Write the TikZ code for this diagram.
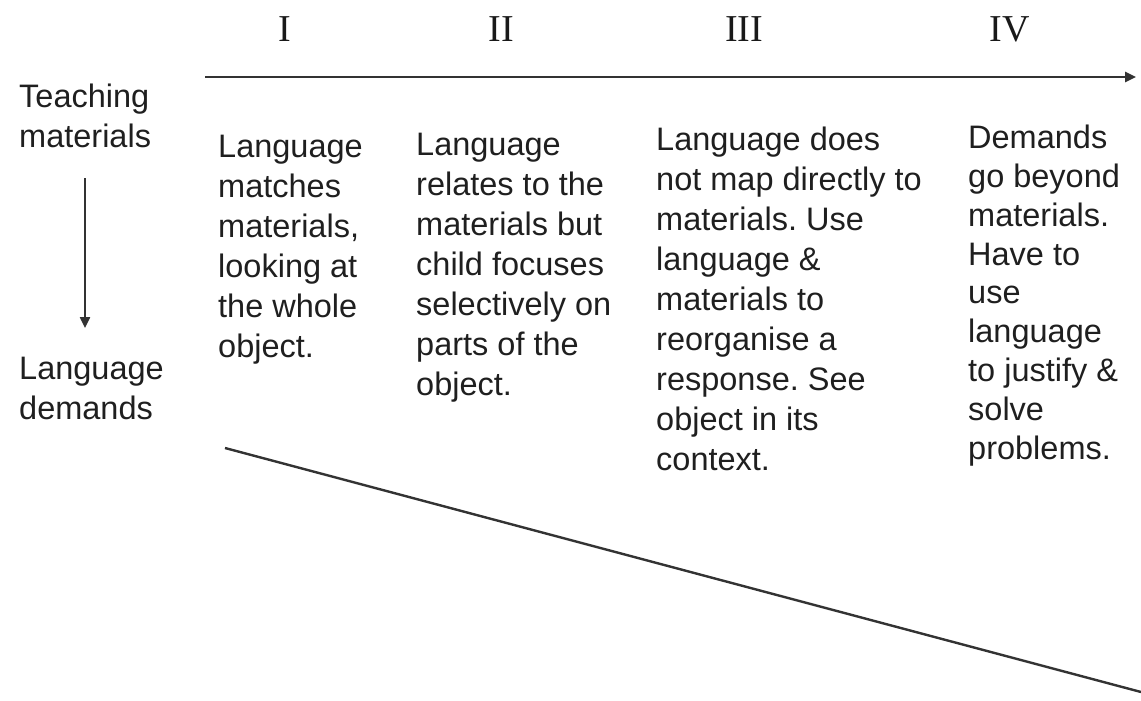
\documentclass[tikz,border=0pt]{standalone}
\usepackage{fontspec}
\setmainfont{Liberation Sans}
\newfontfamily\numfont{Liberation Serif}
\usetikzlibrary{arrows.meta}
\frenchspacing
\tikzset{
  txt/.style={anchor=north west, inner sep=0pt, align=left, text=black!88,
    font=\frenchspacing\fontsize{32.5}{40}\selectfont},
  txtb/.style={txt, font=\frenchspacing\fontsize{32.5}{38.8}\selectfont},
  num/.style={inner sep=0pt, text=black!90, font=\numfont\fontsize{38}{40}\selectfont},
  ln/.style={draw=black!80, line width=2.4pt},
  arr/.style={ln, -{Triangle[length=11pt,width=10pt]}}
}
\begin{document}
\begin{tikzpicture}[x=1pt,y=-1pt]
\useasboundingbox (0,0) rectangle (1141,701);
% roman numerals
\node[num] (n1) at (285,29) {I};
\node[num] (n2) at (501,29) {II};
\node[num] (n3) at (744,29) {III};
\node[num] (n4) at (1010,29) {IV};
% axis arrow
\coordinate (hs) at (205,77);
\coordinate (he) at (1136,77);
\draw[arr] (hs) -- (he);
% left labels
\node[txt] (tm) at (19,84) {Teaching\\materials};
\node[txt] (ld) at (19,357) {Language\\demands};
\coordinate (vs) at (85,178);
\coordinate (ve) at (85,328);
\draw[arr] (vs) -- (ve);
% columns
\node[txt] (c1) at (218,135) {Language\\matches\\materials,\\looking at\\the whole\\object.};
\node[txt] (c2) at (416,133) {Language\\relates to the\\materials but\\child focuses\\selectively on\\parts of the\\object.};
\node[txt] (c3) at (656,127) {Language does\\not map directly to\\materials. Use\\language \&\\materials to\\reorganise a\\response. See\\object in its\\context.};
\node[txtb] (c4) at (968,125) {Demands\\go beyond\\materials.\\Have to\\use\\language\\to justify \&\\solve\\problems.};
% diagonal line
\coordinate (ds) at (225,448);
\coordinate (de) at (1141,692);
\draw[ln] (ds) -- (de);
\end{tikzpicture}
\end{document}
